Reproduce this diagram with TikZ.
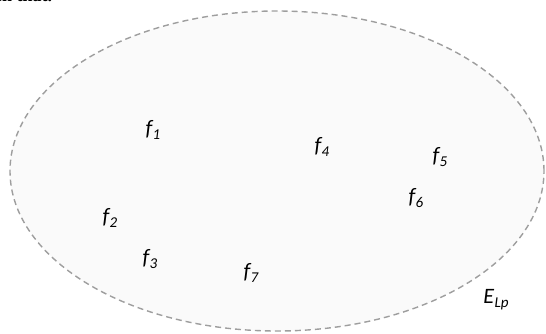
\documentclass[tikz,border=0pt]{standalone}
\usepackage{fontspec}
\usetikzlibrary{shapes.geometric}
\setmainfont{Carlito}
\newfontfamily\serifcut{Liberation Serif}
\begin{document}
\begin{tikzpicture}[x=1pt,y=-1pt,
  lbl/.style={font=\fontsize{22}{24}\selectfont\itshape, inner sep=0pt},
  sub/.style={},
  setline/.style={draw=black!38, dash pattern=on 6pt off 4pt, line width=1.4pt, fill=black!2}]
\useasboundingbox (0,0) rectangle (546,333);
\begin{scope}
\clip (0,0) rectangle (546,333);
\node[anchor=base west, inner sep=0pt, font=\serifcut\bfseries\fontsize{18}{20}\selectfont] (cut) at (-16,1.5) {hen that.};
\node[setline, ellipse, minimum width=534pt, minimum height=320pt, inner sep=0pt] (E) at (277,171) {};
\end{scope}
\newcommand\subx[1]{\kern0.3pt\raisebox{-4pt}{\fontsize{15}{16}\selectfont #1}}
\node[lbl] (f1) at (153,130) {f\subx{1}};
\node[lbl] (f2) at (110,218) {f\subx{2}};
\node[lbl] (f3) at (150,259) {f\subx{3}};
\node[lbl] (f4) at (322,147) {f\subx{4}};
\node[lbl] (f5) at (440,157) {f\subx{5}};
\node[lbl] (f6) at (416,198) {f\subx{6}};
\node[lbl] (f7) at (251,273) {f\subx{7}};
\node[lbl] (ELp) at (496,300) {E\subx{Lp}};
\end{tikzpicture}
\end{document}
